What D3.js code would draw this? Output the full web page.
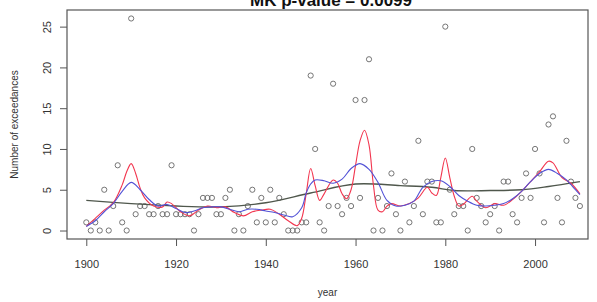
<!DOCTYPE html>
<html>
<head>
<meta charset="utf-8">
<script src="https://cdn.jsdelivr.net/npm/d3@7"></script>
<style>
  body { margin: 0; background: #fff; }
  #chart text { font-family: "Liberation Sans", Arial, sans-serif; }
</style>
</head>
<body>
<div id="chart"></div>
<script>
// yearly counts of exceedances
const years = d3.range(1900, 2011);
const counts = [
  1, 0, 1, 0, 5, 0, 3, 8, 1, 0,      // 1900s
  26, 2, 3, 3, 2, 2, 3, 2, 2, 8,     // 1910s
  2, 2, 2, 2, 0, 2, 4, 4, 4, 2,      // 1920s
  2, 4, 5, 0, 2, 0, 3, 5, 1, 4,      // 1930s
  1, 5, 1, 4, 2, 0, 0, 0, 1, 1,      // 1940s
  19, 10, 1, 0, 3, 18, 3, 2, 4, 3,   // 1950s
  16, 4, 16, 21, 0, 4, 0, 3, 7, 2,   // 1960s
  0, 6, 1, 3, 11, 2, 6, 6, 1, 1,     // 1970s
  25, 5, 2, 3, 3, 0, 10, 4, 3, 1,    // 1980s
  2, 3, 0, 6, 6, 2, 1, 4, 7, 4,      // 1990s
  10, 7, 1, 13, 14, 4, 1, 11, 6, 4,  // 2000s
  3                                  // 2010
];

// short-span smoother (red)
const redYears = [1900, 1902, 1904, 1906, 1908, 1909, 1910, 1911, 1912, 1913, 1915, 1917, 1918, 1919,
  1921, 1923, 1925, 1927, 1929, 1931, 1933, 1935, 1937, 1939, 1941, 1943, 1945, 1947, 1948, 1949,
  1950, 1951, 1952, 1953, 1955, 1956, 1957, 1958, 1959, 1960, 1961, 1962, 1963, 1964, 1965, 1966,
  1967, 1968, 1970, 1972, 1974, 1976, 1977, 1978, 1979, 1980, 1981, 1982, 1983, 1984, 1986, 1987,
  1989, 1991, 1993, 1995, 1997, 1999, 2001, 2003, 2004, 2006, 2008, 2010];
const redValues = [0.5, 1.5, 2.5, 3.4, 5.6, 7.2, 8.2, 7.0, 5.2, 4.0, 3.0, 2.9, 3.5, 3.3,
  2.3, 1.8, 2.5, 3.0, 2.8, 2.9, 2.2, 1.8, 2.3, 2.5, 2.6, 2.0, 1.2, 0.6, 1.5, 4.5,
  7.6, 5.5, 3.7, 4.5, 6.2, 5.8, 4.5, 3.9, 5.0, 8.0, 11.0, 12.3, 10.5, 5.5, 2.5, 2.3,
  3.0, 3.3, 3.0, 3.3, 4.0, 5.3, 4.6, 4.3, 6.5, 8.9, 6.5, 4.2, 3.0, 3.2, 4.2, 3.6,
  2.8, 3.3, 3.1, 3.8, 4.8, 6.0, 7.2, 8.5, 8.3, 6.5, 5.8, 4.5];

// medium-span smoother (blue)
const blueYears = [1900, 1902, 1904, 1906, 1908, 1910, 1912, 1914, 1916, 1918, 1920, 1922, 1924,
  1926, 1928, 1930, 1932, 1934, 1936, 1938, 1940, 1942, 1944, 1946, 1948, 1949, 1950, 1951,
  1953, 1955, 1957, 1959, 1961, 1963, 1965, 1967, 1969, 1971, 1973, 1975, 1977, 1979, 1981,
  1983, 1985, 1987, 1989, 1991, 1993, 1995, 1997, 1999, 2001, 2003, 2005, 2007, 2009, 2010];
const blueValues = [0.5, 1.2, 2.3, 3.3, 4.8, 5.9, 5.0, 3.8, 3.0, 3.2, 2.7, 2.2, 2.4,
  2.8, 2.9, 2.9, 2.6, 2.3, 2.6, 2.6, 2.4, 2.2, 1.9, 1.7, 2.8, 4.6, 5.7, 6.2,
  6.1, 5.8, 6.3, 7.6, 8.2, 7.5, 5.9, 3.7, 3.0, 3.1, 3.6, 5.3, 6.0, 6.1, 5.4,
  4.3, 3.6, 3.1, 3.0, 3.1, 3.3, 3.9, 4.8, 6.0, 7.0, 7.5, 7.0, 6.2, 5.0, 4.4];

// long-span smoother (grey)
const greyYears = [1900, 1910, 1920, 1930, 1940, 1950, 1960, 1970, 1977, 1982, 1990, 1997, 2003, 2010];
const greyValues = [3.7, 3.3, 3.0, 2.9, 3.4, 4.6, 5.7, 5.5, 5.3, 4.9, 4.9, 5.0, 5.4, 6.0];

const xTicks = [1900, 1920, 1940, 1960, 1980, 2000];
const yTicks = [0, 5, 10, 15, 20, 25];
const titleText = 'MK p-value = 0.0099';

function createChart() {
    const W = 597, H = 302;
    const box = { left: 67, right: 588, top: 10, bottom: 239 };

    const svg = d3.select('#chart').append('svg')
        .attr('width', W)
        .attr('height', H);

    const x = d3.scaleLinear().domain([1895.7, 2011.8]).range([box.left, box.right]);
    const y = d3.scaleLinear().domain([-1.04, 27.04]).range([box.bottom, box.top]);

    // Axes
    const xAxis = svg.append('g')
        .attr('transform', `translate(0,${box.bottom})`)
        .call(d3.axisBottom(x).tickValues(xTicks).tickFormat(d3.format('d')).tickSize(7).tickPadding(14));
    const yAxis = svg.append('g')
        .attr('transform', `translate(${box.left},0)`)
        .call(d3.axisLeft(y).tickValues(yTicks).tickSize(7).tickPadding(9));

    [xAxis, yAxis].forEach(a => {
        a.select('.domain').remove();
        a.selectAll('line').attr('stroke', '#555');
        a.selectAll('text').attr('fill', '#333').style('font-size', '11px');
    });
    yAxis.selectAll('text')
        .attr('transform', function () {
            const t = d3.select(this.parentNode).attr('transform');
            return 'rotate(-90)';
        })
        .attr('x', 0)
        .attr('y', -20)
        .attr('dy', '0.35em')
        .style('text-anchor', 'middle');

    // Box
    svg.append('rect')
        .attr('x', box.left)
        .attr('y', box.top)
        .attr('width', box.right - box.left)
        .attr('height', box.bottom - box.top)
        .attr('fill', 'none')
        .attr('stroke', '#555')
        .attr('stroke-width', 1.2);

    // Title (cut off at the top edge)
    svg.append('text')
        .attr('x', 331)
        .attr('y', 6)
        .style('text-anchor', 'middle')
        .style('font-size', '17px')
        .style('font-weight', 'bold')
        .attr('fill', '#111')
        .text(titleText);

    // Axis labels
    svg.append('text')
        .attr('transform', 'rotate(-90)')
        .attr('x', -(box.top + box.bottom) / 2)
        .attr('y', 18)
        .style('text-anchor', 'middle')
        .style('font-size', '10px')
        .attr('fill', '#333')
        .text('Number of exceedances');

    svg.append('text')
        .attr('x', (box.left + box.right) / 2)
        .attr('y', 296)
        .style('text-anchor', 'middle')
        .style('font-size', '10px')
        .attr('fill', '#333')
        .text('year');

    // Points
    svg.append('g').selectAll('circle')
        .data(years.map((yr, i) => ({ yr, v: counts[i] })))
        .join('circle')
        .attr('cx', d => x(d.yr))
        .attr('cy', d => y(d.v))
        .attr('r', 2.6)
        .attr('fill', 'none')
        .attr('stroke', '#666')
        .attr('stroke-width', 0.9);

    // Smoothers
    const line = d3.line()
        .x(d => x(d[0]))
        .y(d => y(d[1]))
        .curve(d3.curveCatmullRom.alpha(0.5));

    const series = [
        { xs: greyYears, vs: greyValues, color: '#4f574c', w: 1.4 },
        { xs: redYears, vs: redValues, color: '#f2364f', w: 1.1 },
        { xs: blueYears, vs: blueValues, color: '#5252d6', w: 1.1 }
    ];

    series.forEach(s => {
        svg.append('path')
            .datum(s.xs.map((yr, i) => [yr, s.vs[i]]))
            .attr('d', line)
            .attr('fill', 'none')
            .attr('stroke', s.color)
            .attr('stroke-width', s.w);
    });
}

createChart();
</script>
</body>
</html>
